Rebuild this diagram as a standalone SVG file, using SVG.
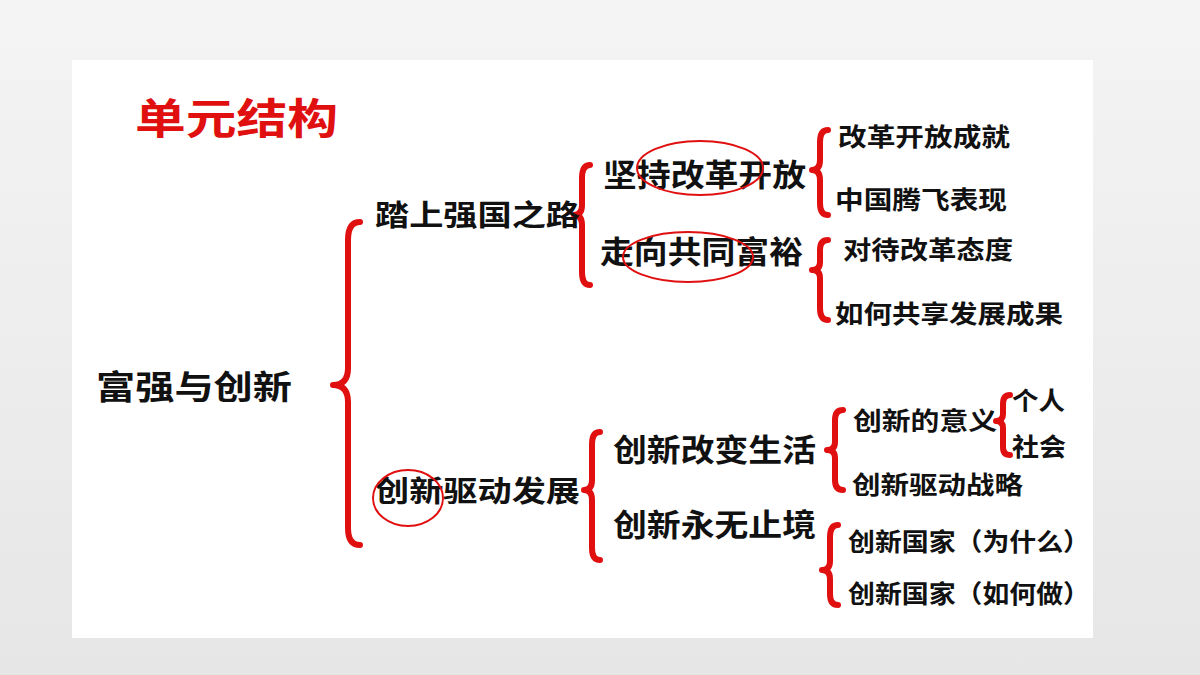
<svg xmlns="http://www.w3.org/2000/svg" width="1200" height="675" viewBox="0 0 1200 675">
<defs>
<linearGradient id="bg" x1="0" y1="0" x2="0" y2="1"><stop offset="0" stop-color="#f4f4f4"/><stop offset="1" stop-color="#e6e6e6"/></linearGradient>
</defs>
<style>
.t{font-family:"Noto Sans CJK SC","Noto Sans",sans-serif;font-weight:bold;fill:#111}
.b{fill:none;stroke:#e01010;stroke-width:6;stroke-linecap:round;stroke-linejoin:round}
.e{fill:none;stroke:#e01010;stroke-width:2}
</style>
<rect width="1200" height="675" fill="url(#bg)"/>
<rect x="72" y="60" width="1021" height="578" fill="#fff"/>
<text class="t" x="135" y="134" font-size="42" textLength="203" lengthAdjust="spacingAndGlyphs" style="fill:#e01010">单元结构</text>
<g id="connectors">
<path class="b" d="M360,222 Q348,222 348,240 L348,368 Q348,385 333,385 Q348,385 348,402 L348,528 Q348,545 360,545"/>
<path class="b" d="M590,165 Q582,165 582,178 L582,205 Q582,215 574,215 Q582,215 582,225 L582,272 Q582,285 590,285"/>
<path class="b" d="M828,130 Q820,130 820,142 L820,160 Q820,170 812,170 Q820,170 820,180 L820,203 Q820,215 828,215"/>
<path class="b" d="M828,240 Q820,240 820,250 L820,262 Q820,270 812,270 Q820,270 820,278 L820,308 Q820,320 828,320"/>
<path class="b" d="M600,432 Q592,432 592,444 L592,480 Q592,490 584,490 Q592,490 592,500 L592,548 Q592,560 600,560"/>
<path class="b" d="M843,410 Q835,410 835,420 L835,442 Q835,450 827,450 Q835,450 835,458 L835,480 Q835,490 843,490"/>
<path class="b" d="M1010,395 Q1003,395 1003,404 L1003,414 Q1003,421 996,421 Q1003,421 1003,428 L1003,447 Q1003,455 1010,455"/>
<path class="b" d="M838,525 Q830,525 830,537 L830,561 Q830,570 822,570 Q830,570 830,579 L830,594 Q830,605 838,605"/>
</g>
<g id="root"><text class="t" x="96" y="399" font-size="33" textLength="196" lengthAdjust="spacingAndGlyphs">富强与创新</text></g>
<g id="n1"><text class="t" x="375" y="226" font-size="29" textLength="205" lengthAdjust="spacingAndGlyphs">踏上强国之路</text></g>
<g id="n2"><text class="t" x="375" y="502" font-size="29" textLength="205" lengthAdjust="spacingAndGlyphs">创新驱动发展</text><ellipse class="e" cx="408" cy="498" rx="35" ry="28"/></g>
<g id="n11"><text class="t" x="603" y="186" font-size="31" textLength="203" lengthAdjust="spacingAndGlyphs">坚持改革开放</text><ellipse class="e" cx="700" cy="168" rx="63" ry="27"/></g>
<g id="n12"><text class="t" x="600" y="263" font-size="31" textLength="203" lengthAdjust="spacingAndGlyphs">走向共同富裕</text><ellipse class="e" cx="688" cy="257" rx="65" ry="25"/></g>
<g id="n21"><text class="t" x="613" y="461" font-size="31" textLength="203" lengthAdjust="spacingAndGlyphs">创新改变生活</text></g>
<g id="n22"><text class="t" x="613" y="536" font-size="31" textLength="203" lengthAdjust="spacingAndGlyphs">创新永无止境</text></g>
<g id="l1"><text class="t" x="838" y="146" font-size="25" textLength="172" lengthAdjust="spacingAndGlyphs">改革开放成就</text></g>
<g id="l2"><text class="t" x="835" y="209" font-size="25" textLength="172" lengthAdjust="spacingAndGlyphs">中国腾飞表现</text></g>
<g id="l3"><text class="t" x="843" y="259" font-size="25" textLength="170" lengthAdjust="spacingAndGlyphs">对待改革态度</text></g>
<g id="l4"><text class="t" x="835" y="323" font-size="25" textLength="228" lengthAdjust="spacingAndGlyphs">如何共享发展成果</text></g>
<g id="l5"><text class="t" x="853" y="430" font-size="25" textLength="144" lengthAdjust="spacingAndGlyphs">创新的意义</text></g>
<g id="l6"><text class="t" x="852" y="494" font-size="25" textLength="171" lengthAdjust="spacingAndGlyphs">创新驱动战略</text></g>
<g id="l7"><text class="t" x="1012" y="410" font-size="25" textLength="53" lengthAdjust="spacingAndGlyphs">个人</text></g>
<g id="l8"><text class="t" x="1012" y="456" font-size="25" textLength="54" lengthAdjust="spacingAndGlyphs">社会</text></g>
<g id="l9"><text class="t" x="848" y="551" font-size="25" textLength="242" lengthAdjust="spacingAndGlyphs">创新国家（为什么）</text></g>
<g id="l10"><text class="t" x="848" y="603" font-size="25" textLength="242" lengthAdjust="spacingAndGlyphs">创新国家（如何做）</text></g>
</svg>
